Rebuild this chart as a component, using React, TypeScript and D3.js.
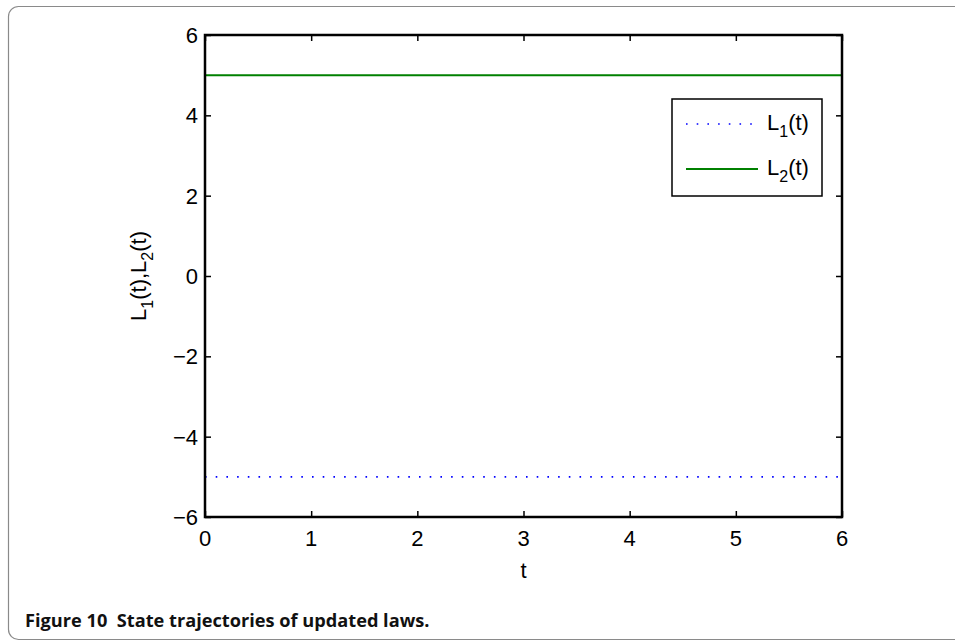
import React, { useEffect, useRef } from 'react';
import * as d3 from 'd3';

// data
const tValues = [0, 6];
const l1Values = [-5, -5];
const l2Values = [5, 5];
const xTicks = [0, 1, 2, 3, 4, 5, 6];
const yTicks = [-6, -4, -2, 0, 2, 4, 6];
const seriesNames = ['1', '2'];

export default function App() {
  const ref = useRef<SVGSVGElement | null>(null);

  useEffect(() => {
    if (!ref.current) return;
    const svg = d3.select(ref.current);
    svg.selectAll('*').remove();

    const font = 'Liberation Sans, Arial, Helvetica, sans-serif';
    const fs = 22;
    const left = 205, top = 35, right = 842, bottom = 517;

    // outer card
    svg.append('rect')
      .attr('x', 8.5).attr('y', 6.5)
      .attr('width', 1000).attr('height', 633)
      .attr('rx', 10).attr('ry', 10)
      .attr('fill', 'white')
      .attr('stroke', '#8a8a8a')
      .attr('stroke-width', 1.2);

    const x = d3.scaleLinear().domain([0, 6]).range([left, right]);
    const y = d3.scaleLinear().domain([-6, 6]).range([bottom, top]);

    const g = svg.append('g');

    // lines
    const line = d3.line<number>()
      .x((_, i) => x(tValues[i]))
      .y(d => y(d));

    g.append('path')
      .datum(l1Values)
      .attr('fill', 'none')
      .attr('stroke', '#0000ff')
      .attr('stroke-width', 1.6)
      .attr('stroke-dasharray', '1.6,9.1')
      .attr('d', line);

    g.append('path')
      .datum(l2Values)
      .attr('fill', 'none')
      .attr('stroke', '#008000')
      .attr('stroke-width', 2)
      .attr('d', line);

    // axes (inward ticks, box style)
    const tickLen = 6;
    const axisStyle = (sel: d3.Selection<SVGGElement, unknown, null, undefined>) => {
      sel.select('.domain').remove();
      sel.selectAll('line').attr('stroke', '#000').attr('stroke-width', 1.5);
    };
    const fmt = (d: d3.NumberValue) => {
      const v = +d;
      return v < 0 ? '\u2212' + Math.abs(v) : String(v);
    };

    g.append('g')
      .attr('transform', `translate(0,${bottom})`)
      .call(d3.axisTop(x).tickValues(xTicks).tickSize(tickLen).tickFormat(() => ''))
      .call(axisStyle);
    g.append('g')
      .attr('transform', `translate(0,${top})`)
      .call(d3.axisBottom(x).tickValues(xTicks).tickSize(tickLen).tickFormat(() => ''))
      .call(axisStyle);
    g.append('g')
      .attr('transform', `translate(${left},0)`)
      .call(d3.axisRight(y).tickValues(yTicks).tickSize(tickLen).tickFormat(() => ''))
      .call(axisStyle);
    g.append('g')
      .attr('transform', `translate(${right},0)`)
      .call(d3.axisLeft(y).tickValues(yTicks).tickSize(tickLen).tickFormat(() => ''))
      .call(axisStyle);

    // tick labels
    g.selectAll('.xl').data(xTicks).enter().append('text')
      .attr('x', d => x(d)).attr('y', bottom + 29)
      .attr('text-anchor', 'middle')
      .attr('font-family', font).attr('font-size', fs)
      .text(d => fmt(d));
    g.selectAll('.yl').data(yTicks).enter().append('text')
      .attr('x', left - 7).attr('y', d => y(d) + 8)
      .attr('text-anchor', 'end')
      .attr('font-family', font).attr('font-size', fs)
      .text(d => fmt(d));

    // box
    g.append('rect')
      .attr('x', left).attr('y', top)
      .attr('width', right - left).attr('height', bottom - top)
      .attr('fill', 'none').attr('stroke', '#000').attr('stroke-width', 2.5);

    // axis labels
    g.append('text')
      .attr('x', (left + right) / 2).attr('y', bottom + 61)
      .attr('text-anchor', 'middle')
      .attr('font-family', font).attr('font-size', fs)
      .text('t');

    const yl = g.append('text')
      .attr('transform', `translate(146,${(top + bottom) / 2}) rotate(-90)`)
      .attr('text-anchor', 'middle')
      .attr('font-family', font).attr('font-size', fs);
    yl.append('tspan').text('L');
    yl.append('tspan').attr('dy', 7).attr('font-size', 16).text('1');
    yl.append('tspan').attr('dy', -7).text('(t),L');
    yl.append('tspan').attr('dy', 7).attr('font-size', 16).text('2');
    yl.append('tspan').attr('dy', -7).text('(t)');

    // legend
    const lx = 672, ly = 99, lw = 150, lh = 97;
    const leg = g.append('g');
    leg.append('rect')
      .attr('x', lx).attr('y', ly).attr('width', lw).attr('height', lh)
      .attr('fill', 'white').attr('stroke', '#000').attr('stroke-width', 1.5);
    const rows = [
      { name: seriesNames[0], color: '#0000ff', dash: '1.6,9.1', w: 1.6, cy: ly + 25 },
      { name: seriesNames[1], color: '#008000', dash: null, w: 2, cy: ly + 70 },
    ];
    rows.forEach(r => {
      leg.append('line')
        .attr('x1', lx + 14).attr('x2', lx + 86)
        .attr('y1', r.cy).attr('y2', r.cy)
        .attr('stroke', r.color).attr('stroke-width', r.w)
        .attr('stroke-dasharray', r.dash);
      const t = leg.append('text')
        .attr('x', lx + 95).attr('y', r.cy + 6)
        .attr('font-family', font).attr('font-size', fs);
      t.append('tspan').text('L');
      t.append('tspan').attr('dy', 7).attr('font-size', 16).text(r.name);
      t.append('tspan').attr('dy', -7).text('(t)');
    });

    // caption
    svg.append('text')
      .attr('x', 25).attr('y', 627)
      .attr('font-family', 'Open Sans, Lato, sans-serif')
      .attr('font-weight', 'bold')
      .attr('font-size', 18.2)
      .attr('fill', '#111')
      .text('Figure 10\u00a0\u00a0State trajectories of updated laws.');
  }, []);

  return (
    <svg ref={ref} width={955} height={642}
      style={{ position: 'absolute', left: 0, top: 0, background: 'white' }} />
  );
}
